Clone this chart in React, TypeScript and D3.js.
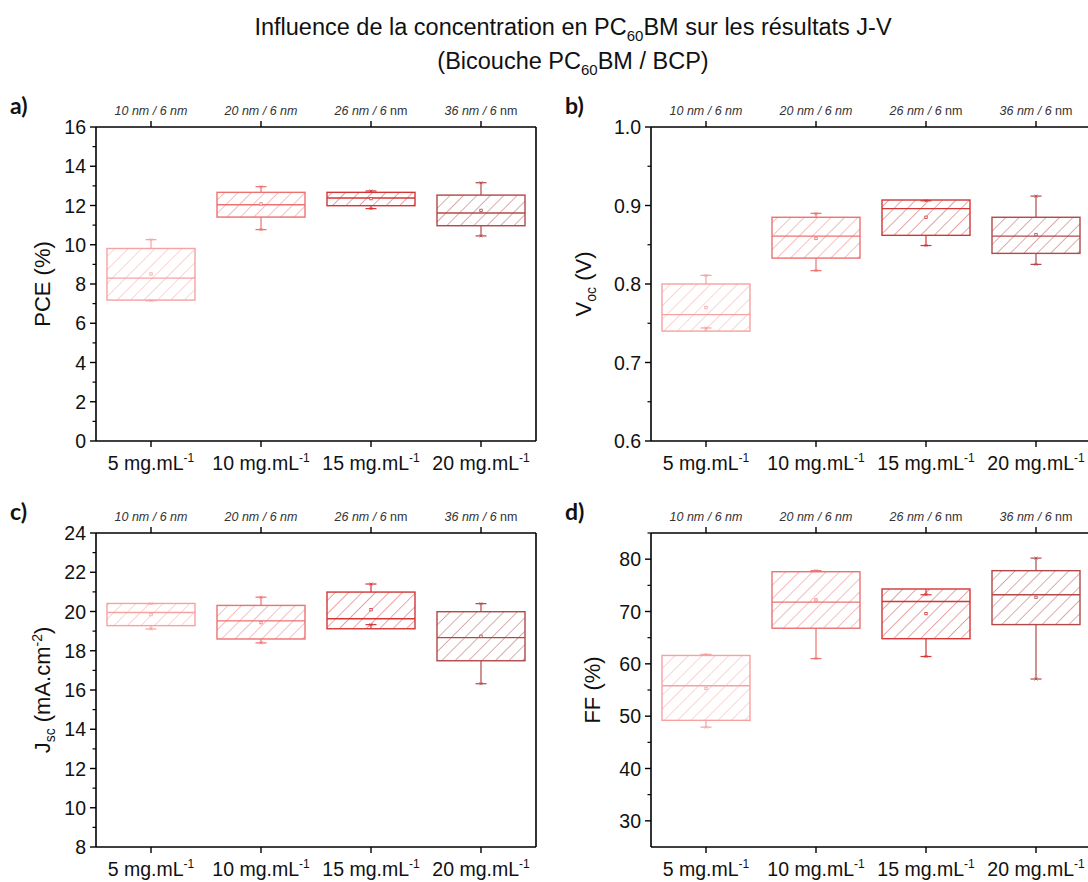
import React from "react";
import * as d3 from "d3";

// ---- data ----
const categories = ["5 mg.mL", "10 mg.mL", "15 mg.mL", "20 mg.mL"];
const thicknessMain = ["10 nm / 6 nm", "20 nm / 6 nm", "26 nm / 6", "36 nm / 6"];
const thicknessTail = ["", "", " nm", " nm"];

// [whiskerLow, q1, median, q3, whiskerHigh, mean]
const pce = [
  [7.15, 7.18, 8.3, 9.81, 10.26, 8.51],
  [10.77, 11.41, 12.04, 12.67, 12.96, 12.08],
  [11.84, 11.99, 12.38, 12.67, 12.74, 12.35],
  [10.45, 10.97, 11.62, 12.53, 13.16, 11.75],
];
const voc = [
  [0.744, 0.74, 0.761, 0.8, 0.811, 0.77],
  [0.817, 0.833, 0.861, 0.885, 0.89, 0.858],
  [0.849, 0.862, 0.896, 0.907, 0.906, 0.885],
  [0.825, 0.839, 0.861, 0.885, 0.912, 0.863],
];
const jsc = [
  [19.11, 19.28, 19.95, 20.41, 20.4, 19.84],
  [18.4, 18.6, 19.52, 20.31, 20.73, 19.43],
  [19.33, 19.12, 19.63, 20.99, 21.4, 20.09],
  [16.32, 17.49, 18.67, 19.99, 20.4, 18.74],
];
const ff = [
  [47.9, 49.2, 55.8, 61.6, 61.8, 55.3],
  [61.0, 66.8, 71.8, 77.6, 77.8, 72.2],
  [61.4, 64.8, 71.9, 74.3, 73.2, 69.6],
  [57.1, 67.5, 73.2, 77.8, 80.2, 72.7],
];

const boxColors = ["#f6a2a2", "#ee7070", "#d43535", "#b24848"];
const FONT = "'Liberation Sans', Arial, sans-serif";

type PanelCfg = {
  letter: string;
  x0: number;
  y0: number;
  data: number[][];
  domain: [number, number];
  major: number[];
  minor: number[];
  fmt: (v: number) => string;
  title: React.ReactNode;
  titleOff: number;
};

const W = 440;
const H = 314;

function Panel({ cfg }: { cfg: PanelCfg }) {
  const x = d3.scaleBand<string>().domain(categories).range([cfg.x0, cfg.x0 + W]).padding(0);
  const y = d3.scaleLinear().domain(cfg.domain).range([cfg.y0 + H, cfg.y0]);
  const bw = x.bandwidth() * 0.8;
  const capW = 11;
  const yb = cfg.y0 + H;
  return (
    <g>
      {cfg.data.map((s, i) => {
        const cx = (x(categories[i]) as number) + x.bandwidth() / 2;
        const col = boxColors[i];
        const [wl, q1, med, q3, wh, mean] = s;
        const top = y(q3);
        const bot = y(q1);
        const cross = (yy: number) =>
          `M${cx - 1.5},${yy - 1.5}L${cx + 1.5},${yy + 1.5}M${cx + 1.5},${yy - 1.5}L${cx - 1.5},${yy + 1.5}`;
        return (
          <g key={i}>
            <rect x={cx - bw / 2} y={top} width={bw} height={bot - top} fill={`url(#hatch${i})`} stroke={col} strokeWidth={1.4} />
            <line x1={cx - bw / 2} x2={cx + bw / 2} y1={y(med)} y2={y(med)} stroke={col} strokeWidth={1.4} />
            <line x1={cx} x2={cx} y1={top} y2={y(wh)} stroke={col} strokeWidth={1.2} />
            <line x1={cx} x2={cx} y1={bot} y2={y(wl)} stroke={col} strokeWidth={1.2} />
            <line x1={cx - capW / 2} x2={cx + capW / 2} y1={y(wh)} y2={y(wh)} stroke={col} strokeWidth={1.2} />
            <line x1={cx - capW / 2} x2={cx + capW / 2} y1={y(wl)} y2={y(wl)} stroke={col} strokeWidth={1.2} />
            <path d={cross(y(wh))} stroke={col} strokeWidth={0.8} />
            <path d={cross(y(wl))} stroke={col} strokeWidth={0.8} />
            <rect x={cx - 1.2} y={y(mean) - 1.2} width={2.4} height={2.4} fill="white" stroke={col} strokeWidth={0.8} />
          </g>
        );
      })}
      <line x1={cfg.x0} x2={cfg.x0 + W} y1={cfg.y0} y2={cfg.y0} stroke="#000" strokeWidth={1.6} />
      <line x1={cfg.x0} x2={cfg.x0 + W} y1={yb} y2={yb} stroke="#000" strokeWidth={1.6} />
      <line x1={cfg.x0} x2={cfg.x0} y1={cfg.y0} y2={yb} stroke="#000" strokeWidth={1.6} />
      <line x1={cfg.x0 + W} x2={cfg.x0 + W} y1={cfg.y0} y2={yb} stroke="#000" strokeWidth={1.6} />
      {cfg.major.map((v) => (
        <g key={"M" + v}>
          <line x1={cfg.x0 - 6} x2={cfg.x0} y1={y(v)} y2={y(v)} stroke="#000" strokeWidth={1.4} />
          <text x={cfg.x0 - 10} y={y(v)} dy="0.36em" textAnchor="end" fontSize={19.5} fontFamily={FONT} fill="#111">
            {cfg.fmt(v)}
          </text>
        </g>
      ))}
      {cfg.minor.map((v) => (
        <line key={"m" + v} x1={cfg.x0 - 3.5} x2={cfg.x0} y1={y(v)} y2={y(v)} stroke="#000" strokeWidth={1.2} />
      ))}
      {categories.map((c, i) => {
        const cx = (x(c) as number) + x.bandwidth() / 2;
        return (
          <g key={c}>
            <line x1={cx} x2={cx} y1={yb} y2={yb + 6} stroke="#000" strokeWidth={1.4} />
            <line x1={cx} x2={cx} y1={cfg.y0} y2={cfg.y0 - 6} stroke="#000" strokeWidth={1.4} />
            <text x={cx} y={yb + 29} textAnchor="middle" fontSize={19.5} fontFamily={FONT} fill="#111">
              {c}
              <tspan fontSize={12} dy={-8}>-1</tspan>
            </text>
            <text x={cx} y={cfg.y0 - 12} textAnchor="middle" fontSize={12.5} fontFamily={FONT} fill="#333">
              <tspan fontStyle="italic">{thicknessMain[i]}</tspan>
              {thicknessTail[i] ? <tspan>{thicknessTail[i]}</tspan> : null}
            </text>
          </g>
        );
      })}
      <text
        transform={`translate(${cfg.x0 - cfg.titleOff},${cfg.y0 + H / 2}) rotate(-90)`}
        textAnchor="middle"
        fontSize={22}
        fontFamily={FONT}
        fill="#111"
      >
        {cfg.title}
      </text>
      <text x={cfg.x0 - 86} y={cfg.y0 - 13} fontSize={23} fontWeight="bold" fontFamily="Lato, 'Open Sans', sans-serif" fill="#111">
        {cfg.letter}
      </text>
    </g>
  );
}

export default function App() {
  const range = (a: number, b: number, s: number) => d3.range(a, b + s / 2, s).map((v) => +v.toFixed(3));
  const panels: PanelCfg[] = [
    {
      letter: "a)", x0: 96, y0: 127, data: pce, domain: [0, 16], titleOff: 46,
      major: range(0, 16, 2), minor: range(1, 15, 2), fmt: (v) => String(v),
      title: <>PCE (%)</>,
    },
    {
      letter: "b)", x0: 651, y0: 127, data: voc, domain: [0.6, 1.0], titleOff: 60,
      major: range(0.6, 1.0, 0.1), minor: range(0.65, 0.95, 0.1), fmt: (v) => v.toFixed(1),
      title: <>V<tspan fontSize={14} dy={5}>oc</tspan><tspan dy={-5}> (V)</tspan></>,
    },
    {
      letter: "c)", x0: 96, y0: 533, data: jsc, domain: [8, 24], titleOff: 46,
      major: range(8, 24, 2), minor: range(9, 23, 2), fmt: (v) => String(v),
      title: <>J<tspan fontSize={14} dy={5}>sc</tspan><tspan dy={-5}> (mA.cm</tspan><tspan fontSize={14} dy={-8}>-2</tspan><tspan dy={8}>)</tspan></>,
    },
    {
      letter: "d)", x0: 651, y0: 533, data: ff, domain: [25, 85], titleOff: 51,
      major: range(30, 80, 10), minor: range(35, 85, 10), fmt: (v) => String(v),
      title: <>FF (%)</>,
    },
  ];
  return (
    <svg width={1088} height={882} style={{ position: "absolute", left: 0, top: 0, background: "white" }}>
      <defs>
        {boxColors.map((c, i) => (
          <pattern key={i} id={`hatch${i}`} patternUnits="userSpaceOnUse" width={9.5} height={9.5} patternTransform="rotate(45)">
            <line x1={0} y1={0} x2={0} y2={9.5} stroke={c} strokeWidth={0.9} />
          </pattern>
        ))}
      </defs>
      <rect width={1088} height={882} fill="white" />
      <text x={573} y={35} textAnchor="middle" fontSize={23.5} fontFamily={FONT} fill="#111">
        Influence de la concentration en PC<tspan fontSize={15} dy={6}>60</tspan>
        <tspan dy={-6}>BM sur les résultats J-V</tspan>
      </text>
      <text x={573} y={69} textAnchor="middle" fontSize={23.5} fontFamily={FONT} fill="#111">
        (Bicouche PC<tspan fontSize={15} dy={6}>60</tspan>
        <tspan dy={-6}>BM / BCP)</tspan>
      </text>
      {panels.map((p) => (
        <Panel key={p.letter} cfg={p} />
      ))}
    </svg>
  );
}
